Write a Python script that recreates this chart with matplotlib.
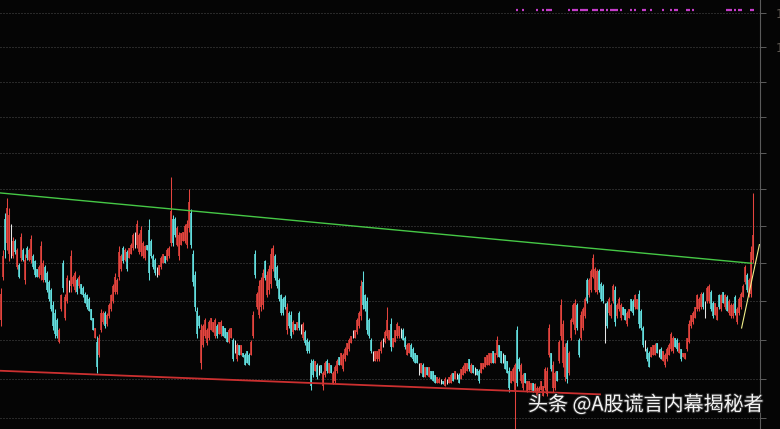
import numpy as np
import matplotlib
matplotlib.use("Agg")
import matplotlib.pyplot as plt
from matplotlib.collections import LineCollection
from matplotlib.ticker import NullLocator, FixedLocator, FixedFormatter, NullFormatter
import matplotlib.patheffects as pe

# ---------------- data ----------------
open_ = [
    13.30,13.53,13.84,13.71,13.65,13.71,13.64,13.72,13.58,13.59,
    13.63,13.67,13.51,13.68,13.62,13.62,13.64,13.61,13.57,13.53,
    13.54,13.51,13.58,13.55,13.50,13.46,13.38,13.34,13.30,13.19,
    13.36,13.60,13.31,13.40,13.48,13.48,13.49,13.46,13.51,13.48,
    13.49,13.47,13.44,13.43,13.41,13.36,13.31,13.21,13.19,13.12,
    13.25,13.29,13.34,13.28,13.32,13.36,13.40,13.45,13.45,13.53,
    13.57,13.68,13.62,13.66,13.63,13.65,13.68,13.72,13.70,13.66,
    13.66,13.64,13.63,13.70,13.78,13.72,13.64,13.62,13.56,13.54,
    13.58,13.60,13.64,13.62,13.64,13.71,13.84,13.84,13.70,13.64,
    13.70,13.72,13.72,13.70,13.79,13.87,13.65,13.54,13.35,13.32,
    13.08,13.17,13.22,13.18,13.21,13.25,13.24,13.22,13.27,13.23,
    13.23,13.27,13.26,13.24,13.19,13.21,13.20,13.16,13.10,13.17,
    13.12,13.13,13.12,13.14,13.12,13.12,13.22,13.65,13.37,13.33,
    13.37,13.38,13.61,13.43,13.46,13.49,13.57,13.64,13.58,13.51,
    13.43,13.41,13.42,13.25,13.34,13.33,13.24,13.28,13.25,13.34,
    13.26,13.21,13.24,13.20,13.19,13.08,13.09,13.04,13.07,13.04,
    13.07,12.96,13.02,13.09,13.03,13.07,12.98,12.99,13.04,13.11,
    13.07,13.05,13.10,13.12,13.15,13.18,13.23,13.21,13.24,13.27,
    13.32,13.50,13.43,13.40,13.30,13.20,13.12,13.09,13.10,13.10,
    13.14,13.18,13.19,13.22,13.20,13.28,13.16,13.19,13.22,13.22,
    13.24,13.25,13.21,13.12,13.13,13.17,13.15,13.13,13.12,13.05,
    13.03,13.07,13.01,13.06,13.01,13.04,13.04,13.02,12.98,12.98,
    12.98,12.99,12.96,12.98,12.98,12.98,13.03,13.00,13.02,13.02,
    13.00,13.02,13.03,13.04,13.10,13.03,13.07,13.04,13.05,13.04,
    13.03,13.05,13.06,13.07,13.07,13.08,13.14,13.08,13.12,13.17,
    13.14,13.10,13.12,13.09,13.04,12.98,12.99,12.94,13.25,13.10,
    12.99,12.95,13.03,12.93,12.94,12.94,12.98,12.93,12.91,12.90,
    12.94,12.91,12.95,12.92,13.12,13.13,12.95,12.95,13.04,13.09,
    13.22,13.08,13.01,13.18,13.03,13.21,13.29,13.25,13.38,13.20,
    13.21,13.26,13.32,13.51,13.43,13.46,13.53,13.46,13.45,13.56,
    13.49,13.48,13.30,13.39,13.34,13.32,13.40,13.46,13.32,13.36,
    13.31,13.37,13.36,13.28,13.31,13.41,13.40,13.37,13.36,13.44,
    13.35,13.26,13.17,13.15,13.13,13.11,13.12,13.12,13.18,13.13,
    13.15,13.09,13.07,13.10,13.12,13.15,13.14,13.21,13.20,13.13,
    13.15,13.11,13.10,13.15,13.19,13.27,13.29,13.31,13.36,13.36,
    13.37,13.44,13.36,13.40,13.40,13.45,13.39,13.33,13.30,13.43,
    13.36,13.45,13.37,13.42,13.34,13.32,13.32,13.42,13.29,13.34,
    13.37,13.42,13.50,13.54,13.43,13.44,13.62,
]
high = [
    13.47,13.67,13.87,13.95,13.90,13.81,13.74,13.73,13.68,13.60,
    13.76,13.68,13.65,13.69,13.68,13.75,13.65,13.62,13.57,13.59,
    13.72,13.62,13.59,13.56,13.51,13.47,13.40,13.36,13.31,13.26,
    13.44,13.62,13.44,13.54,13.51,13.67,13.54,13.56,13.52,13.54,
    13.49,13.48,13.45,13.44,13.42,13.36,13.31,13.26,13.22,13.23,
    13.36,13.35,13.35,13.34,13.39,13.44,13.49,13.55,13.52,13.69,
    13.65,13.69,13.68,13.67,13.68,13.71,13.76,13.77,13.83,13.76,
    13.80,13.72,13.70,13.70,13.84,13.73,13.65,13.63,13.58,13.59,
    13.64,13.65,13.64,13.68,13.69,14.07,13.86,13.85,13.80,13.77,
    13.76,13.77,13.81,13.83,14.00,13.89,13.67,13.56,13.37,13.33,
    13.28,13.28,13.31,13.26,13.30,13.31,13.29,13.31,13.28,13.29,
    13.30,13.27,13.26,13.24,13.26,13.26,13.21,13.20,13.18,13.17,
    13.17,13.13,13.13,13.14,13.13,13.20,13.35,13.67,13.45,13.51,
    13.53,13.57,13.62,13.56,13.59,13.68,13.70,13.65,13.59,13.52,
    13.44,13.42,13.43,13.39,13.35,13.35,13.30,13.28,13.29,13.35,
    13.28,13.29,13.25,13.21,13.20,13.10,13.10,13.09,13.08,13.07,
    13.07,13.04,13.09,13.10,13.08,13.07,13.04,13.07,13.10,13.11,
    13.13,13.13,13.16,13.18,13.21,13.22,13.25,13.25,13.31,13.35,
    13.51,13.56,13.44,13.42,13.31,13.21,13.14,13.14,13.14,13.15,
    13.20,13.21,13.25,13.37,13.25,13.31,13.21,13.25,13.29,13.27,
    13.26,13.26,13.22,13.18,13.18,13.18,13.16,13.13,13.12,13.08,
    13.08,13.08,13.06,13.06,13.06,13.04,13.04,13.02,13.01,13.01,
    13.00,12.99,13.01,13.00,13.01,13.03,13.03,13.04,13.03,13.03,
    13.05,13.07,13.08,13.08,13.10,13.08,13.07,13.06,13.05,13.05,
    13.08,13.08,13.11,13.12,13.13,13.13,13.14,13.13,13.22,13.17,
    13.14,13.13,13.12,13.09,13.06,13.04,13.06,13.08,13.27,13.11,
    13.08,13.03,13.03,12.99,12.99,12.98,12.98,12.98,12.96,12.96,
    12.99,12.96,13.06,13.06,13.28,13.13,13.09,13.04,13.04,13.20,
    13.41,13.30,13.18,13.20,13.14,13.31,13.39,13.41,13.39,13.21,
    13.35,13.37,13.42,13.52,13.52,13.57,13.65,13.58,13.57,13.57,
    13.50,13.49,13.39,13.40,13.42,13.39,13.49,13.48,13.39,13.42,
    13.39,13.37,13.36,13.35,13.36,13.41,13.41,13.44,13.41,13.46,
    13.36,13.27,13.20,13.16,13.14,13.16,13.17,13.18,13.18,13.15,
    13.16,13.14,13.13,13.16,13.18,13.24,13.22,13.21,13.21,13.19,
    13.15,13.13,13.13,13.21,13.30,13.33,13.35,13.37,13.44,13.42,
    13.45,13.45,13.40,13.48,13.49,13.46,13.40,13.39,13.37,13.44,
    13.44,13.45,13.44,13.43,13.41,13.39,13.39,13.43,13.37,13.42,
    13.45,13.49,13.59,13.55,13.52,13.69,13.98,
]
low = [
    13.27,13.51,13.63,13.67,13.61,13.63,13.63,13.65,13.57,13.52,
    13.61,13.61,13.49,13.62,13.61,13.60,13.57,13.53,13.53,13.52,
    13.51,13.50,13.50,13.45,13.40,13.35,13.25,13.21,13.21,13.18,
    13.35,13.45,13.30,13.39,13.45,13.45,13.48,13.45,13.44,13.47,
    13.44,13.42,13.39,13.36,13.35,13.30,13.25,13.21,13.03,13.11,
    13.24,13.28,13.26,13.27,13.31,13.35,13.39,13.44,13.44,13.51,
    13.56,13.60,13.61,13.56,13.63,13.65,13.67,13.68,13.68,13.65,
    13.64,13.63,13.62,13.67,13.51,13.63,13.57,13.54,13.53,13.54,
    13.57,13.60,13.60,13.61,13.63,13.69,13.69,13.74,13.69,13.62,
    13.70,13.72,13.71,13.68,13.77,13.68,13.48,13.35,13.21,13.26,
    13.05,13.16,13.21,13.17,13.20,13.25,13.24,13.21,13.21,13.23,
    13.22,13.22,13.21,13.19,13.18,13.21,13.09,13.13,13.09,13.12,
    13.12,13.11,13.07,13.08,13.07,13.12,13.21,13.52,13.36,13.31,
    13.35,13.36,13.51,13.42,13.44,13.47,13.56,13.51,13.47,13.40,
    13.33,13.33,13.36,13.23,13.26,13.21,13.23,13.25,13.25,13.25,
    13.23,13.20,13.17,13.13,13.13,12.94,13.01,13.04,13.00,13.02,
    13.03,12.94,13.01,13.03,13.03,13.03,12.97,12.98,13.03,13.07,
    13.07,13.04,13.09,13.12,13.14,13.18,13.21,13.21,13.23,13.26,
    13.30,13.36,13.35,13.23,13.21,13.13,13.09,13.09,13.09,13.09,
    13.13,13.16,13.18,13.21,13.20,13.14,13.16,13.19,13.21,13.21,
    13.21,13.20,13.15,13.12,13.13,13.11,13.09,13.08,13.08,13.02,
    13.03,13.01,13.01,13.02,13.01,13.00,12.99,12.98,12.98,12.98,
    12.97,12.97,12.96,12.97,12.98,12.98,12.99,13.00,13.00,12.98,
    13.00,13.02,13.03,13.04,13.04,13.03,13.03,13.02,13.02,12.98,
    13.03,13.05,13.06,13.07,13.07,13.08,13.08,13.08,13.11,13.11,
    13.08,13.08,13.05,13.03,12.93,12.98,12.99,12.73,12.96,13.04,
    12.98,12.94,12.98,12.93,12.94,12.94,12.93,12.93,12.91,12.89,
    12.94,12.91,12.94,12.91,13.11,13.04,12.93,12.94,12.99,13.08,
    13.20,13.06,12.99,12.98,13.02,13.20,13.28,13.23,13.25,13.11,
    13.20,13.25,13.31,13.39,13.42,13.45,13.52,13.45,13.44,13.45,
    13.40,13.39,13.18,13.26,13.33,13.31,13.39,13.27,13.31,13.35,
    13.30,13.33,13.30,13.27,13.31,13.35,13.33,13.36,13.36,13.26,
    13.25,13.16,13.14,13.09,13.06,13.11,13.12,13.12,13.13,13.11,
    13.10,13.09,13.06,13.09,13.12,13.14,13.13,13.16,13.14,13.13,
    13.09,13.11,13.10,13.14,13.18,13.26,13.28,13.31,13.35,13.35,
    13.36,13.36,13.31,13.39,13.39,13.35,13.31,13.33,13.30,13.36,
    13.35,13.39,13.36,13.35,13.33,13.31,13.31,13.33,13.28,13.33,
    13.36,13.42,13.49,13.45,13.42,13.42,13.60,
]
close = [
    13.44,13.64,13.67,13.90,13.86,13.71,13.72,13.66,13.67,13.53,
    13.74,13.62,13.62,13.63,13.67,13.73,13.58,13.54,13.53,13.58,
    13.69,13.60,13.51,13.46,13.41,13.36,13.27,13.23,13.22,13.25,
    13.43,13.47,13.42,13.52,13.48,13.64,13.53,13.55,13.45,13.53,
    13.44,13.43,13.39,13.37,13.35,13.30,13.25,13.26,13.06,13.21,
    13.34,13.34,13.27,13.33,13.38,13.43,13.48,13.53,13.51,13.66,
    13.64,13.61,13.67,13.57,13.68,13.70,13.75,13.72,13.81,13.75,
    13.78,13.71,13.69,13.67,13.55,13.64,13.58,13.55,13.56,13.59,
    13.63,13.65,13.60,13.67,13.68,13.88,13.71,13.75,13.79,13.75,
    13.76,13.77,13.80,13.81,13.93,13.70,13.50,13.37,13.23,13.27,
    13.25,13.27,13.30,13.25,13.29,13.31,13.29,13.30,13.22,13.29,
    13.29,13.22,13.21,13.19,13.25,13.26,13.10,13.16,13.17,13.12,
    13.17,13.11,13.07,13.08,13.07,13.19,13.33,13.54,13.44,13.48,
    13.51,13.55,13.52,13.54,13.57,13.65,13.68,13.52,13.48,13.41,
    13.34,13.34,13.37,13.37,13.27,13.22,13.29,13.25,13.29,13.26,
    13.26,13.28,13.18,13.14,13.14,12.96,13.02,13.09,13.01,13.04,
    13.03,13.03,13.08,13.04,13.08,13.03,13.03,13.06,13.09,13.07,
    13.13,13.12,13.15,13.18,13.20,13.22,13.23,13.25,13.30,13.34,
    13.48,13.38,13.36,13.25,13.22,13.14,13.12,13.14,13.14,13.15,
    13.19,13.18,13.24,13.30,13.25,13.16,13.21,13.25,13.28,13.27,
    13.24,13.20,13.16,13.17,13.18,13.11,13.10,13.08,13.08,13.05,
    13.08,13.01,13.06,13.02,13.06,13.00,12.99,12.98,13.01,13.00,
    12.98,12.97,13.00,12.98,13.01,13.02,12.99,13.04,13.02,12.98,
    13.05,13.06,13.08,13.08,13.05,13.07,13.03,13.04,13.02,12.99,
    13.08,13.08,13.11,13.12,13.13,13.13,13.08,13.13,13.20,13.11,
    13.08,13.10,13.05,13.03,12.95,13.04,13.05,13.07,12.98,13.05,
    13.07,13.02,12.98,12.99,12.99,12.98,12.93,12.97,12.95,12.95,
    12.99,12.96,13.05,13.04,13.26,13.05,13.07,13.03,12.99,13.19,
    13.38,13.28,13.16,13.00,13.13,13.30,13.38,13.39,13.26,13.12,
    13.33,13.36,13.41,13.40,13.51,13.56,13.63,13.57,13.56,13.46,
    13.41,13.40,13.30,13.27,13.41,13.38,13.48,13.29,13.38,13.41,
    13.38,13.33,13.30,13.34,13.36,13.35,13.34,13.43,13.41,13.28,
    13.26,13.17,13.17,13.10,13.06,13.16,13.17,13.17,13.13,13.13,
    13.10,13.14,13.12,13.15,13.17,13.23,13.21,13.16,13.15,13.18,
    13.10,13.13,13.13,13.21,13.28,13.33,13.34,13.37,13.43,13.41,
    13.44,13.37,13.36,13.47,13.48,13.36,13.32,13.39,13.37,13.37,
    13.43,13.39,13.43,13.35,13.40,13.38,13.38,13.34,13.36,13.41,
    13.44,13.48,13.58,13.46,13.51,13.66,13.75,
]

# price gridlines (right axis) and the two visible labels
grid_prices = [15.0, 14.8, 14.6, 14.4, 14.2, 14.0, 13.8, 13.6, 13.4, 13.2, 13.0, 12.8]
grid_labels = ["15.00", "14.80", "", "", "", "", "", "", "", "", "", ""]

# trend lines: (bar index, price) end points
green_x = [-0.5, 375.5]
green_y = [13.98, 13.60]
red_x = [-0.5, 299.5]
red_y = [13.04, 12.92]
yellow_x = [370.3, 379.2]
yellow_y = [13.26, 13.70]

# indicator signal bars (magenta dashes at the top)
signal_idx = [258, 261, 268, 271, 273, 274, 275, 284, 286, 287, 288, 290, 291, 292,
              293, 296, 297, 298, 300, 301, 303, 305, 306, 307, 308, 310, 315, 317,
              321, 322, 325, 331, 335, 337, 338, 343, 344, 346, 363, 364, 365, 367,
              369, 370, 375, 376]
signal_level = 15.02

watermark = "头条 @A股谎言内幕揭秘者"

assert len(open_) == len(high) == len(low) == len(close), (len(open_), len(high), len(low), len(close))

# ---------------- drawing ----------------
BG = "#050505"
UP = "#e5443e"
DOWN = "#62dede"
FLAT = "#e6e6e6"

fig = plt.figure(figsize=(7.8, 4.29), dpi=100, facecolor=BG)
ax = fig.add_axes([0, 0, 760 / 780, 1])
ax.set_facecolor(BG)
ax.set_yscale("log")
ax.set_xlim(-0.5, 379.5)
ax.set_ylim(12.746, 15.0766)

for p in grid_prices:
    ax.axhline(p, color="#4d4d4d", lw=0.72, ls=(0, (1, 2)), zorder=1)

o = np.array(open_); h = np.array(high); l = np.array(low); c = np.array(close)
x = np.arange(len(o))
cols = []
for oo, cc in zip(o, c):
    if np.isclose(oo, cc):
        cols.append(FLAT)
    elif cc > oo:
        cols.append(UP)
    else:
        cols.append(DOWN)

wicks = [[(xi, lo), (xi, hi)] for xi, lo, hi in zip(x, l, h)]
bodies = [[(xi, min(a, b)), (xi, max(a, b))] for xi, a, b in zip(x, o, c)]
ax.add_collection(LineCollection(wicks, colors=cols, linewidths=0.75, capstyle="butt", zorder=3))
ax.add_collection(LineCollection(bodies, colors=cols, linewidths=1.15, capstyle="butt", zorder=3))

ax.plot(green_x, green_y, color="#46c846", lw=1.0, zorder=4)
ax.plot(red_x, red_y, color="#cc3030", lw=1.3, zorder=4)
ax.plot(yellow_x, yellow_y, color="#f2f08a", lw=0.8, zorder=4)

si = np.array(signal_idx)
ax.hlines([signal_level] * len(si), si - 0.6, si + 0.6, color="#c43cc8", lw=1.6, zorder=4)

for s in ["top", "left", "bottom"]:
    ax.spines[s].set_visible(False)
ax.spines["right"].set_color("#5a5a5a")
ax.spines["right"].set_linewidth(0.8)
ax.set_xticks([])
ax.yaxis.tick_right()
ax.yaxis.set_major_locator(FixedLocator(grid_prices))
ax.yaxis.set_major_formatter(FixedFormatter(grid_labels))
ax.yaxis.set_minor_locator(NullLocator())
ax.yaxis.set_minor_formatter(NullFormatter())
ax.tick_params(axis="y", which="major", direction="out", length=4.3, width=0.72,
               color="#5a5a5a", labelcolor="#5e5852", labelsize=9, pad=7)

fig.text(528 / 780, 1 - 405 / 429, watermark, fontsize=14.4, color="#f4f4f4",
         family=["Noto Sans CJK SC", "DejaVu Sans"], ha="left", va="center",
         path_effects=[pe.withStroke(linewidth=1.5, foreground="#2a2a2a")], zorder=10)

fig.savefig("out.png", dpi=100, facecolor=BG)
